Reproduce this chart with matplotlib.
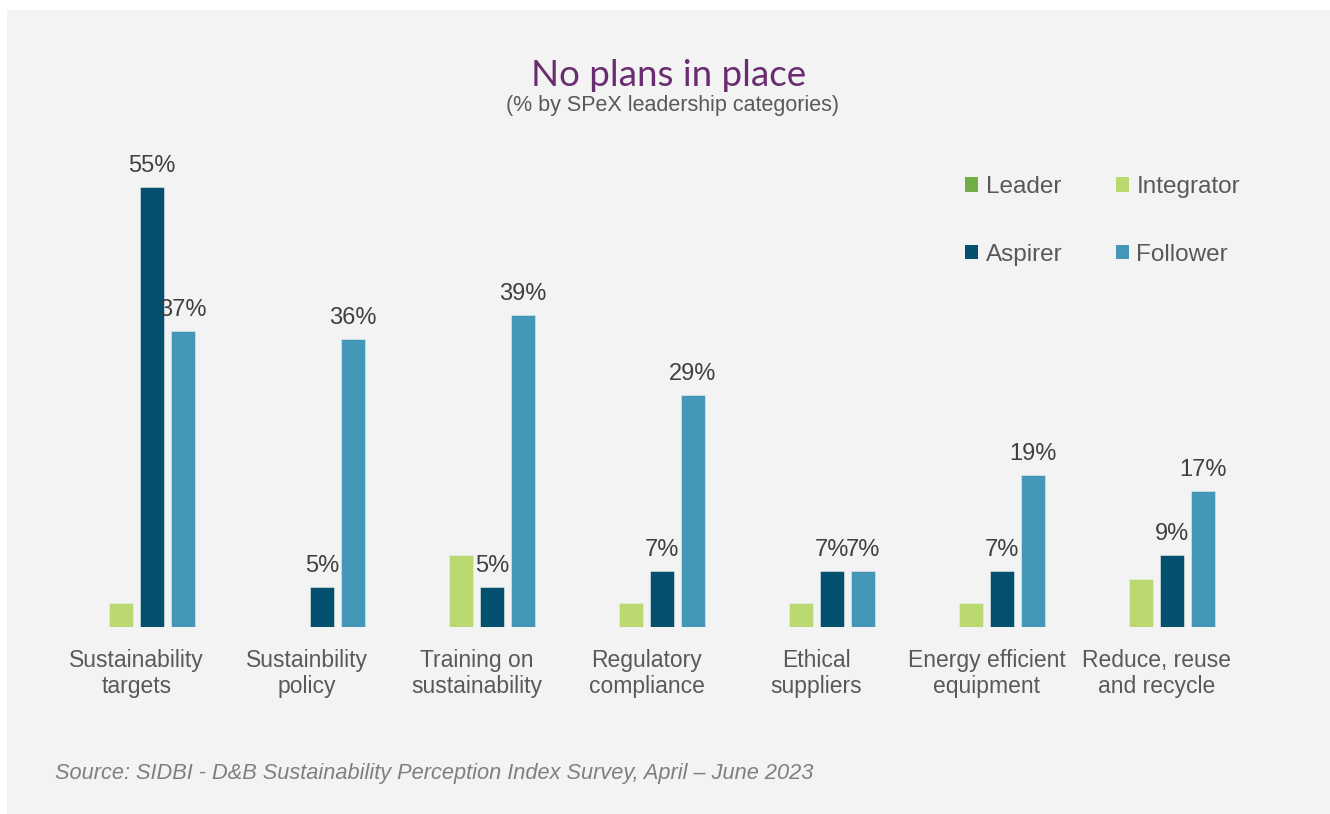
import numpy as np
import matplotlib
matplotlib.use('Agg')
import matplotlib.pyplot as plt
from matplotlib.patches import Rectangle, Patch

# chart data
categories = ['Sustainability\ntargets', 'Sustainbility\npolicy', 'Training on\nsustainability',
              'Regulatory\ncompliance', 'Ethical\nsuppliers', 'Energy efficient\nequipment',
              'Reduce, reuse\nand recycle']
series_names = ['Leader', 'Integrator', 'Aspirer', 'Follower']
leader = [0, 0, 0, 0, 0, 0, 0]
integrator = [3, 0, 9, 3, 3, 3, 6]
aspirer = [55, 5, 5, 7, 7, 7, 9]
follower = [37, 36, 39, 29, 7, 19, 17]
labelled = [False, False, True, True]  # only Aspirer and Follower carry labels

colors = ['#70ad47', '#b9d86f', '#02506e', '#4498b7']
W, H = 1330, 814

fig = plt.figure(figsize=(W/100, H/100), dpi=100, facecolor='white')
# grey panel behind everything
fig.patches.append(Rectangle((7/W, 0), 1, 1-10/H, transform=fig.transFigure,
                             facecolor='#f3f3f3', edgecolor='none', zorder=-10))

ax = fig.add_axes([51.5/W, 187/H, 1190/W, 464/H])
ax.set_facecolor('none')

x = np.arange(len(categories))
step = 31/170
bw = 24.3/170
allvals = [leader, integrator, aspirer, follower]
for i, vals in enumerate(allvals):
    pos = x + (i - 1.5)*step
    ax.bar(pos, vals, width=bw, color=colors[i], edgecolor='#e8eef0', linewidth=0.4)
    if labelled[i]:
        for p, v in zip(pos, vals):
            ax.annotate('%d%%' % v, (p, v), xytext=(0, 10.5), textcoords='offset points',
                        ha='center', va='baseline', fontsize=17, color='#404040',
                        family='Liberation Sans')

ax.set_xlim(-0.5, 6.5)
ax.set_ylim(0, 58)
ax.set_yticks([])
ax.set_xticks(x)
ax.set_xticklabels(categories, fontsize=16.5, color='#595959', family='Liberation Sans',
                   linespacing=1.22)
ax.tick_params(axis='x', length=0, pad=15.5)
for s in ax.spines.values():
    s.set_visible(False)

# titles
fig.text(669/W, 1-75/H, 'No plans in place', ha='center', va='center', fontsize=26.5,
         color='#6a2c70', family='Lato', fontweight='normal')
fig.text(673/W, 1-106/H, '(% by SPeX leadership categories)', ha='center', va='center',
         fontsize=15.5, color='#595959', family='Liberation Sans')

# legend, 2 x 2 filled row by row (matplotlib fills columns, so reorder)
order = [0, 2, 1, 3]
handles = [Patch(facecolor=colors[k], edgecolor='none') for k in order]
names = [series_names[k] for k in order]
fig.legend(handles, names, loc='upper left', bbox_to_anchor=(965/W, 1-176/H),
           ncol=2, frameon=False, borderpad=0, borderaxespad=0,
           handlelength=0.55, handleheight=0.55, handletextpad=0.3,
           columnspacing=2.2, labelspacing=1.88,
           prop={'family': 'Liberation Sans', 'size': 17.5}, labelcolor='#595959')

fig.text(55/W, 1-773/H, 'Source: SIDBI - D&B Sustainability Perception Index Survey, April \u2013 June 2023',
         ha='left', va='center', fontsize=15.7, style='italic', color='#7f7f7f',
         family='Liberation Sans')

fig.savefig('out.png', dpi=100, facecolor=fig.get_facecolor())
